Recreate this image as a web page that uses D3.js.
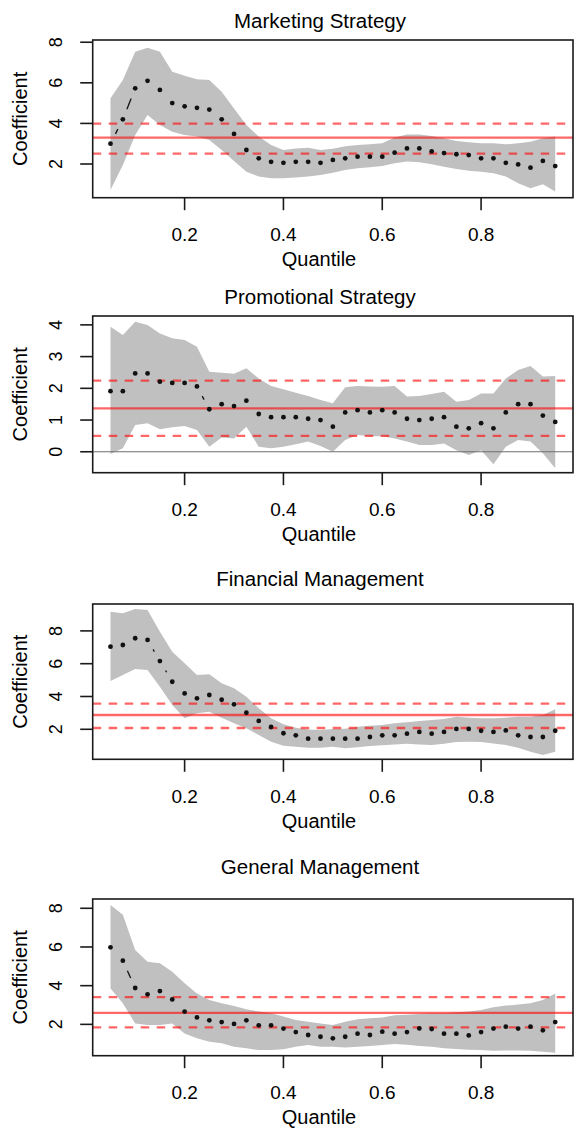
<!DOCTYPE html>
<html>
<head>
<meta charset="utf-8">
<script src="https://cdn.jsdelivr.net/npm/d3@7"></script>
<style>
    body { margin: 0; background: #fff; }
    svg text { font-family: "Liberation Sans", Arial, Helvetica, sans-serif; fill: #000; }
</style>
</head>
<body>
<div id="chart"></div>
<script>
// quantiles tau at which the regressions were fitted
const quantiles = [0.05, 0.075, 0.1, 0.125, 0.15, 0.175, 0.2, 0.225, 0.25, 0.275, 0.3, 0.325, 0.35,
    0.375, 0.4, 0.425, 0.45, 0.475, 0.5, 0.525, 0.55, 0.575, 0.6, 0.625, 0.65, 0.675, 0.7, 0.725,
    0.75, 0.775, 0.8, 0.825, 0.85, 0.875, 0.9, 0.925, 0.95];
const xTicks = [0.2, 0.4, 0.6, 0.8];

// Marketing Strategy
const marketingCoef = [3.00, 4.20, 5.73, 6.10, 5.65, 5.00, 4.84, 4.77, 4.68, 4.20, 3.48, 2.69, 2.28, 2.11, 2.06, 2.11, 2.11, 2.06, 2.20,
    2.28, 2.36, 2.36, 2.36, 2.56, 2.77, 2.77, 2.62, 2.54, 2.48, 2.44, 2.28, 2.28, 2.06, 1.98, 1.82, 2.15, 1.90];
const marketingUpper = [5.24, 6.14, 7.53, 7.73, 7.53, 6.55, 6.35, 6.17, 6.14, 5.56, 4.74, 3.92, 3.35, 2.94, 2.69, 2.77, 2.80, 2.69, 2.75,
    2.88, 2.94, 2.97, 3.02, 3.30, 3.46, 3.46, 3.38, 3.27, 3.13, 3.07, 3.02, 3.02, 2.97, 3.02, 3.10, 3.27, 3.35];
const marketingLower = [0.72, 1.95, 3.43, 4.42, 3.92, 3.59, 3.43, 3.35, 3.18, 2.69, 2.15, 1.62, 1.38, 1.30, 1.30, 1.33, 1.38, 1.46, 1.57,
    1.70, 1.79, 1.84, 1.90, 2.04, 2.12, 2.09, 1.99, 1.87, 1.75, 1.67, 1.62, 1.54, 1.38, 1.05, 0.80, 1.00, 0.64];
const marketingOls = [3.30, 2.51, 3.99]; // estimate, lower, upper

// Promotional Strategy
const promoCoef = [1.91, 1.91, 2.47, 2.47, 2.21, 2.17, 2.17, 2.06, 1.34, 1.50, 1.44, 1.61, 1.19, 1.09, 1.09, 1.09, 1.04, 1.00, 0.79,
    1.24, 1.31, 1.24, 1.31, 1.24, 1.04, 1.00, 1.04, 1.09, 0.79, 0.74, 0.90, 0.74, 1.24, 1.50, 1.50, 1.14, 0.94];
const promoUpper = [3.94, 3.68, 4.10, 4.00, 3.73, 3.58, 3.52, 3.31, 2.52, 2.49, 2.46, 2.63, 2.31, 2.07, 1.97, 1.86, 1.76, 1.63, 1.53,
    2.03, 2.07, 2.06, 2.05, 2.07, 1.74, 1.76, 1.82, 1.89, 1.58, 1.63, 1.84, 1.84, 2.31, 2.58, 2.70, 2.37, 2.39];
const promoLower = [-0.07, 0.11, 0.84, 0.90, 0.71, 0.77, 0.81, 0.69, 0.16, 0.45, 0.42, 0.79, 0.16, 0.11, 0.16, 0.24, 0.32, 0.18, 0.00,
    0.37, 0.53, 0.49, 0.49, 0.42, 0.32, 0.21, 0.21, 0.26, 0.05, -0.10, 0.05, -0.39, 0.16, 0.37, 0.32, -0.05, -0.52];
const promoOls = [1.37, 0.50, 2.24];

// Financial Management
const financeCoef = [7.04, 7.14, 7.55, 7.45, 6.16, 4.90, 4.19, 3.89, 4.09, 3.80, 3.52, 3.01, 2.51, 2.14, 1.76, 1.63, 1.43, 1.43, 1.43,
    1.43, 1.43, 1.53, 1.63, 1.63, 1.73, 1.84, 1.73, 1.84, 2.02, 2.02, 1.91, 1.84, 1.93, 1.63, 1.53, 1.53, 1.91];
const financeUpper = [9.17, 9.07, 9.34, 9.28, 7.95, 6.73, 6.02, 5.31, 5.36, 4.80, 4.50, 3.99, 3.28, 2.67, 2.30, 2.10, 1.98, 1.96, 2.02,
    2.04, 2.16, 2.22, 2.26, 2.37, 2.43, 2.51, 2.57, 2.63, 2.77, 2.71, 2.67, 2.67, 2.71, 2.77, 2.77, 2.87, 3.22];
const financeLower = [4.95, 5.31, 5.68, 5.62, 4.60, 3.48, 2.67, 2.98, 3.07, 2.71, 2.37, 2.06, 1.65, 1.24, 1.00, 0.94, 0.88, 0.88, 0.94,
    0.84, 0.90, 0.98, 1.02, 1.08, 1.12, 1.08, 1.04, 1.12, 1.23, 1.24, 1.23, 1.14, 1.04, 0.88, 0.63, 0.43, 0.63];
const financeOls = [2.87, 2.08, 3.56];

// General Management
const generalCoef = [5.98, 5.29, 3.88, 3.55, 3.72, 3.29, 2.66, 2.36, 2.21, 2.12, 2.02, 2.21, 1.95, 1.95, 1.78, 1.60, 1.45, 1.36, 1.28,
    1.36, 1.52, 1.45, 1.62, 1.52, 1.60, 1.79, 1.76, 1.52, 1.52, 1.43, 1.60, 1.78, 1.88, 1.78, 1.88, 1.69, 2.12];
const generalUpper = [8.17, 7.66, 5.85, 5.24, 5.16, 4.72, 4.12, 3.60, 3.26, 3.09, 2.95, 2.78, 2.66, 2.57, 2.40, 2.22, 2.14, 2.05, 1.97,
    2.14, 2.26, 2.31, 2.36, 2.47, 2.50, 2.53, 2.57, 2.57, 2.62, 2.66, 2.74, 2.88, 2.97, 3.03, 3.09, 3.26, 3.60];
const generalLower = [3.86, 3.09, 2.05, 1.97, 1.97, 2.05, 1.53, 1.28, 1.10, 1.02, 0.84, 0.76, 0.67, 0.67, 0.71, 0.84, 0.93, 0.84, 0.84,
    0.81, 0.84, 0.88, 0.93, 0.98, 0.95, 0.88, 0.84, 0.77, 0.72, 0.69, 0.67, 0.64, 0.65, 0.65, 0.64, 0.59, 0.53];
const generalOls = [2.59, 1.84, 3.41];

class QuantilePanel {
    constructor(_config, _data) {
        this.config = {
            svg: _config.svg,
            title: _config.title,
            top: _config.top,
            bottom: _config.bottom,
            left: _config.left || 92.7,
            right: _config.right || 573,
            yDomain: _config.yDomain,
            yTicks: _config.yTicks,
            zeroLine: _config.zeroLine || false,
            titleGap: _config.titleGap || 11.7,
        };
        this.data = _data;
        this.initVis();
    }

    initVis() {
        let vis = this;
        const c = vis.config;

        vis.rows = quantiles.map((q, i) => ({
            q: q,
            coef: vis.data.coef[i],
            lo: vis.data.lower[i],
            hi: vis.data.upper[i],
        }));

        vis.xScale = d3.scaleLinear().domain([0.014, 0.986]).range([c.left, c.right]);
        vis.yScale = d3.scaleLinear().domain(c.yDomain).range([c.bottom, c.top]);

        vis.g = c.svg.append("g");

        // confidence band
        const band = d3.area()
            .x((d) => vis.xScale(d.q))
            .y0((d) => vis.yScale(d.lo))
            .y1((d) => vis.yScale(d.hi));
        vis.g.append("path").datum(vis.rows).attr("d", band).attr("fill", "#c0c0c0");

        if (c.zeroLine) {
            vis.g.append("line")
                .attr("x1", c.left).attr("x2", c.right)
                .attr("y1", vis.yScale(0)).attr("y2", vis.yScale(0))
                .attr("stroke", "#6e6e6e").attr("stroke-width", 1.2);
        }

        // type "b" connecting segments with gaps around the points
        const gap = 11;
        const segs = [];
        for (let i = 1; i < vis.rows.length; i++) {
            const x1 = vis.xScale(vis.rows[i - 1].q), y1 = vis.yScale(vis.rows[i - 1].coef);
            const x2 = vis.xScale(vis.rows[i].q), y2 = vis.yScale(vis.rows[i].coef);
            const len = Math.hypot(x2 - x1, y2 - y1);
            if (len > 2 * gap) {
                const ux = (x2 - x1) / len, uy = (y2 - y1) / len;
                segs.push([x1 + ux * gap, y1 + uy * gap, x2 - ux * gap, y2 - uy * gap]);
            }
        }
        vis.g.selectAll(".seg").data(segs).join("line")
            .attr("x1", (d) => d[0]).attr("y1", (d) => d[1])
            .attr("x2", (d) => d[2]).attr("y2", (d) => d[3])
            .attr("stroke", "#111").attr("stroke-width", 1.3);

        // OLS estimate and its interval
        const ols = vis.data.ols;
        vis.g.selectAll(".ols").data(ols).join("line")
            .attr("x1", c.left).attr("x2", c.right)
            .attr("y1", (d) => vis.yScale(d)).attr("y2", (d) => vis.yScale(d))
            .attr("stroke", "#ff0000").attr("stroke-opacity", 0.6)
            .attr("stroke-width", 2.3)
            .attr("stroke-dasharray", (d, i) => (i === 0 ? null : "8.5 7.5"));

        vis.g.selectAll(".pt").data(vis.rows).join("circle")
            .attr("cx", (d) => vis.xScale(d.q))
            .attr("cy", (d) => vis.yScale(d.coef))
            .attr("r", 2.4)
            .attr("fill", "#111");

        // box
        vis.g.append("rect")
            .attr("x", c.left).attr("y", c.top)
            .attr("width", c.right - c.left).attr("height", c.bottom - c.top)
            .attr("fill", "none").attr("stroke", "#1a1a1a").attr("stroke-width", 1.6);

        // axes
        vis.g.selectAll(".xt").data(xTicks).join("line")
            .attr("x1", (d) => vis.xScale(d)).attr("x2", (d) => vis.xScale(d))
            .attr("y1", c.bottom).attr("y2", c.bottom + 12.5)
            .attr("stroke", "#1a1a1a").attr("stroke-width", 1.6);
        vis.g.selectAll(".xl").data(xTicks).join("text")
            .attr("x", (d) => vis.xScale(d)).attr("y", c.bottom + 43.3)
            .attr("text-anchor", "middle").attr("font-size", 19)
            .text((d) => d3.format(".1f")(d));

        vis.g.selectAll(".yt").data(c.yTicks).join("line")
            .attr("x1", c.left - 12.5).attr("x2", c.left)
            .attr("y1", (d) => vis.yScale(d)).attr("y2", (d) => vis.yScale(d))
            .attr("stroke", "#1a1a1a").attr("stroke-width", 1.6);
        vis.g.selectAll(".yl").data(c.yTicks).join("text")
            .attr("transform", (d) => `translate(61.5,${vis.yScale(d)}) rotate(-90)`)
            .attr("text-anchor", "middle").attr("font-size", 18)
            .text((d) => d);

        const midY = (c.top + c.bottom) / 2;
        vis.g.append("text")
            .attr("transform", `translate(26.5,${midY}) rotate(-90)`)
            .attr("text-anchor", "middle").attr("font-size", 20)
            .text("Coefficient");

        vis.g.append("text")
            .attr("x", 319).attr("y", c.bottom + 68.3)
            .attr("text-anchor", "middle").attr("font-size", 20)
            .text("Quantile");

        vis.g.append("text")
            .attr("x", 320).attr("y", c.top - c.titleGap)
            .attr("text-anchor", "middle").attr("font-size", 20.5)
            .text(c.title);
    }
}

const svg = d3.select("#chart").append("svg").attr("width", 574).attr("height", 1133);

new QuantilePanel(
    { svg: svg, title: "Marketing Strategy", top: 40, bottom: 197.7, yDomain: [0.34, 8.11], yTicks: [2, 4, 6, 8] },
    { coef: marketingCoef, upper: marketingUpper, lower: marketingLower, ols: marketingOls }
);
new QuantilePanel(
    { svg: svg, title: "Promotional Strategy", top: 316, bottom: 472.7, yDomain: [-0.66, 4.28], yTicks: [0, 1, 2, 3, 4], zeroLine: true },
    { coef: promoCoef, upper: promoUpper, lower: promoLower, ols: promoOls }
);
new QuantilePanel(
    { svg: svg, title: "Financial Management", top: 604, bottom: 759.3, yDomain: [0.17, 9.64], yTicks: [2, 4, 6, 8], titleGap: 18.5 },
    { coef: financeCoef, upper: financeUpper, lower: financeLower, ols: financeOls }
);
new QuantilePanel(
    { svg: svg, title: "General Management", top: 899, bottom: 1055.7, yDomain: [0.38, 8.48], yTicks: [2, 4, 6, 8], titleGap: 25 },
    { coef: generalCoef, upper: generalUpper, lower: generalLower, ols: generalOls }
);
</script>
</body>
</html>
